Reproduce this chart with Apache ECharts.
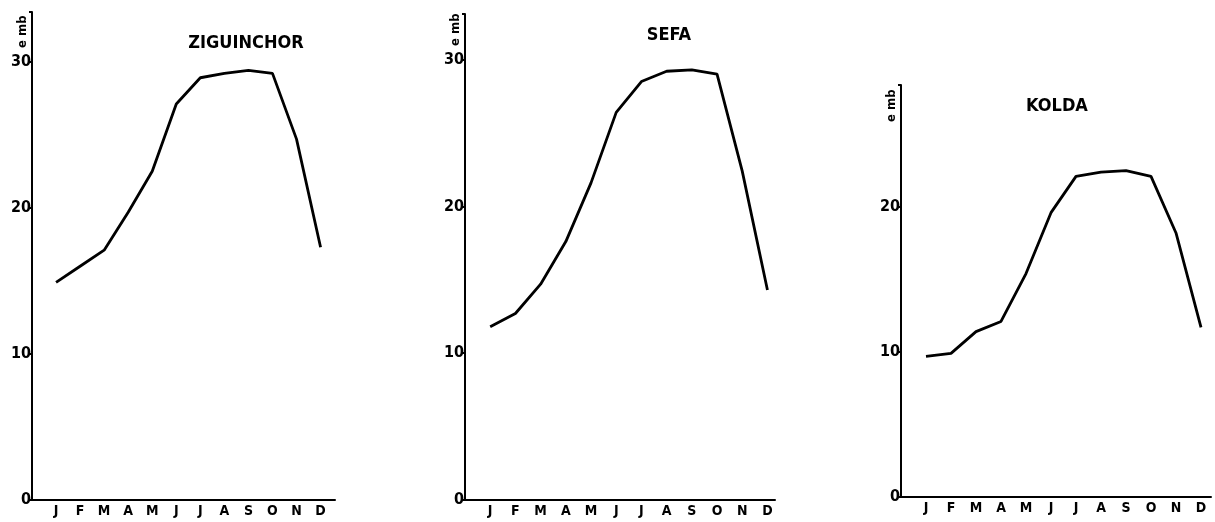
<!DOCTYPE html>
<html>
<head>
<meta charset="utf-8">
<script src="https://cdn.jsdelivr.net/npm/echarts@6/dist/echarts.min.js"></script>
<style>
  html, body { margin: 0; padding: 0; background: #fff; }
  #chart { width: 1215px; height: 522px; }
</style>
</head>
<body>
<div id="chart"></div>
<script>
// mois
var months = ['J', 'F', 'M', 'A', 'M', 'J', 'J', 'A', 'S', 'O', 'N', 'D'];
var stations = ['ZIGUINCHOR', 'SEFA', 'KOLDA'];
var yTicks = [0, 10, 20, 30];
// valeurs mensuelles
var ziguinchor = [14.9, 16.0, 17.1, 19.7, 22.5, 27.1, 28.9, 29.2, 29.4, 29.2, 24.7, 17.3];
var sefa = [11.8, 12.7, 14.7, 17.6, 21.6, 26.4, 28.5, 29.2, 29.3, 29.0, 22.4, 14.3];
var kolda = [9.7, 9.9, 11.4, 12.1, 15.4, 19.6, 22.1, 22.4, 22.5, 22.1, 18.2, 11.7];

var chart = echarts.init(document.getElementById('chart'));

var font = '"DejaVu Sans Condensed", "DejaVu Sans", sans-serif';

// position de chaque graphique
var grids = [
  { left: 32, top: 12, width: 303, bottom: 22 },
  { left: 465, top: 14, width: 310, bottom: 22 },
  { left: 901, top: 85, width: 310, bottom: 25 }
];
var xMax = [11.6, 11.3, 11.4];
var yMax = [33.4, 33.1, 28.4];
var allData = [ziguinchor, sefa, kolda];

var xAxes = [], yAxes = [], series = [];
for (var i = 0; i < 3; i++) {
  xAxes.push({
    type: 'value', gridIndex: i, min: -1, max: xMax[i], interval: 1,
    splitLine: { show: false },
    axisTick: { show: false },
    axisLine: { onZero: false, lineStyle: { color: '#000', width: 2 } },
    axisLabel: {
      color: '#000', fontFamily: font, fontWeight: 'bold', fontSize: 14, margin: 4,
      formatter: function (v) {
        return (Number.isInteger(v) && v >= 0 && v < 12) ? months[v] : '';
      }
    }
  });
  yAxes.push({
    type: 'value', gridIndex: i, min: 0, max: yMax[i], interval: 10,
    splitLine: { show: false },
    axisTick: { show: true, length: 3, lineStyle: { color: '#000', width: 2 } },
    axisLine: { show: true, onZero: false, lineStyle: { color: '#000', width: 2 } },
    axisLabel: {
      color: '#000', fontFamily: font, fontWeight: 'bold', fontSize: 16, margin: 1,
      padding: [0, 0, 6, 0],
      formatter: function (v) {
        return yTicks.indexOf(v) >= 0 ? String(v) : '';
      }
    }
  });
  series.push({
    type: 'line', xAxisIndex: i, yAxisIndex: i,
    data: allData[i].map(function (v, k) { return [k, v]; }),
    symbol: 'none',
    lineStyle: { color: '#000', width: 2.8 }
  });
}

chart.setOption({
  backgroundColor: '#fff',
  animation: false,
  title: [
    { text: stations[0], left: 241, top: 29, textAlign: 'center',
      textStyle: { fontFamily: font, fontWeight: 'bold', fontSize: 18, color: '#000' } },
    { text: stations[1], left: 664, top: 21, textAlign: 'center',
      textStyle: { fontFamily: font, fontWeight: 'bold', fontSize: 18, color: '#000' } },
    { text: stations[2], left: 1052, top: 92, textAlign: 'center',
      textStyle: { fontFamily: font, fontWeight: 'bold', fontSize: 18, color: '#000' } }
  ],
  grid: grids,
  xAxis: xAxes,
  yAxis: yAxes,
  series: series,
  graphic: [
    { type: 'text', x: 16, y: 48, rotation: Math.PI / 2,
      style: { text: 'e mb', font: 'bold 13px ' + font, fill: '#000' } },
    { type: 'text', x: 449, y: 46, rotation: Math.PI / 2,
      style: { text: 'e mb', font: 'bold 13px ' + font, fill: '#000' } },
    { type: 'text', x: 885, y: 122, rotation: Math.PI / 2,
      style: { text: 'e mb', font: 'bold 13px ' + font, fill: '#000' } }
  ]
});
</script>
</body>
</html>
